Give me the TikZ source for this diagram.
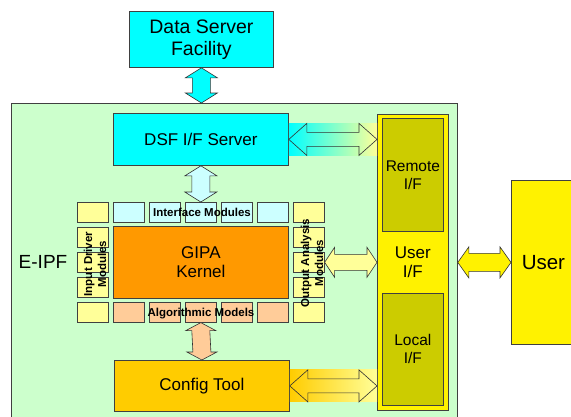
\documentclass[tikz,border=0pt]{standalone}
\usepackage{fontspec}
\setmainfont{Liberation Sans}
\usetikzlibrary{calc}
\definecolor{dsfcyan}{HTML}{00FFFF}
\definecolor{ifcyan}{HTML}{CCFFFF}
\definecolor{paleyel}{HTML}{FFFF99}
\definecolor{algsalmon}{HTML}{FFCC99}
\definecolor{kernelor}{HTML}{FF9900}
\definecolor{cfggold}{HTML}{FFCC00}
\definecolor{ifolive}{HTML}{CCCC00}
\definecolor{bggreen}{HTML}{CCFFCC}
\colorlet{edge}{black!75}
\tikzset{
    box/.style={draw=edge,line width=0.8pt,inner sep=0pt,anchor=north west,align=center,font=\fontsize{17}{19}\selectfont},
    cell/.style={draw=edge,line width=0.6pt,inner sep=0pt,anchor=north west,minimum width=31pt,minimum height=20pt},
    tag/.style={inner sep=0pt,align=center,font=\bfseries\fontsize{11.5}{14}\selectfont},
    blk/.style={draw=black!80,line width=0.6pt}
}
% block arrows: style, from, to, head half width, shaft half width, head length
\newcommand{\vblk}[6]{%
    \draw[blk,#1] (#2) -- ($(#2)+(#4,#6)$) -- ($(#2)+(#5,#6)$) -- ($(#3)+(#5,-#6)$)
        -- ($(#3)+(#4,-#6)$) -- (#3) -- ($(#3)+(-#4,-#6)$) -- ($(#3)+(-#5,-#6)$)
        -- ($(#2)+(-#5,#6)$) -- ($(#2)+(-#4,#6)$) -- cycle;}
\newcommand{\hblk}[6]{%
    \draw[blk,#1] (#2) -- ($(#2)+(#6,-#4)$) -- ($(#2)+(#6,-#5)$) -- ($(#3)+(-#6,-#5)$)
        -- ($(#3)+(-#6,-#4)$) -- (#3) -- ($(#3)+(-#6,#4)$) -- ($(#3)+(-#6,#5)$)
        -- ($(#2)+(#6,#5)$) -- ($(#2)+(#6,#4)$) -- cycle;}

\begin{document}
\begin{tikzpicture}[x=1pt,y=-1pt]
    \useasboundingbox (0,0) rectangle (571,416);
    \node [box,fill=bggreen,minimum width=446pt,minimum height=330pt] (eipf) at (11,103) {};
    \node [font=\fontsize{19}{21}\selectfont,inner sep=0pt] (eipflbl) at (43,262) {E-IPF};

    \node [box,fill=dsfcyan,minimum width=144pt,minimum height=56pt,font=\fontsize{19.5}{22}\selectfont] (dsf) at (129,11) {Data Server\\Facility};
    \node [box,fill=dsfcyan,minimum width=175pt,minimum height=52pt] (dsfif) at (113,113) {DSF I/F Server};
    \node [box,fill=cfggold,minimum width=175pt,minimum height=51pt] (cfg) at (114,360) {Config Tool};

    \node [box,fill=yellow,minimum width=71pt,minimum height=296pt] (useri) at (377,114) {User\\I/F};
    \node [box,fill=ifolive,minimum width=61pt,minimum height=113pt,font=\fontsize{15.5}{18}\selectfont] (remote) at (382,118) {Remote\\I/F};
    \node [box,fill=ifolive,minimum width=61pt,minimum height=112pt,font=\fontsize{15.5}{18}\selectfont] (local) at (382,293) {Local\\I/F};
    \node [box,fill=yellow,minimum width=64pt,minimum height=164pt,font=\fontsize{20.5}{23}\selectfont] (user) at (511,180) {User};

    \foreach \i in {0,...,6} {
        \ifnum\i=0 \def\tc{paleyel}\def\bc{paleyel}
        \else\ifnum\i=6 \def\tc{paleyel}\def\bc{paleyel}
        \else \def\tc{ifcyan}\def\bc{algsalmon}\fi\fi
        \node [cell,fill=\tc] (t\i) at (77+36*\i,202) {};
        \node [cell,fill=\bc] (b\i) at (77+36*\i,302) {};
    }
    \foreach \j in {1,2,3} {
        \node [cell,fill=paleyel] (l\j) at (77,202+25*\j) {};
        \node [cell,fill=paleyel] (r\j) at (293,202+25*\j) {};
    }
    \node [box,fill=kernelor,minimum width=175pt,minimum height=72pt] (kernel) at (113,226) {GIPA\\Kernel};
    \node [tag] (iflbl) at (202,212) {Interface Modules};
    \node [tag] (alglbl) at (201,314) {Algorithmic Models};
    \node [tag,rotate=90] (inlbl) at (95,264) {Input Driver\\Modules};
    \node [tag,rotate=90] (outlbl) at (312,263) {Output Analysis\\Modules};

    \coordinate (dsfin) at (dsf.south |- eipf.north);
    \coordinate (remin) at (dsfif.east -| useri.west);
    \coordinate (outin) at (r2.east -| useri.west);
    \coordinate (locin) at (cfg.east -| useri.west);
    \coordinate (userout) at (eipf.east |- user.west);

    \shade [left color=dsfcyan,right color=paleyel] ($(dsfif.east)+(0,-16)$) rectangle ($(remin)+(0,16)$);
    \shade [left color=cfggold,right color=paleyel] ($(cfg.east)+(0,-16)$) rectangle ($(locin)+(0,16)$);

    \vblk{fill=dsfcyan}{dsf.south}{dsfin}{16}{9}{10}
    \vblk{fill=ifcyan}{dsfif.south}{t3.north}{16}{9}{10}
    \vblk{fill=algsalmon}{b3.south}{cfg.north}{15}{9}{8}
    \hblk{}{dsfif.east}{remin}{16}{7}{18}
    \hblk{fill=paleyel}{r2.east}{outin}{15}{8}{10}
    \hblk{}{cfg.east}{locin}{16}{7}{18}
    \hblk{fill=yellow}{userout}{user.west}{15.5}{9}{11}
\end{tikzpicture}
\end{document}
